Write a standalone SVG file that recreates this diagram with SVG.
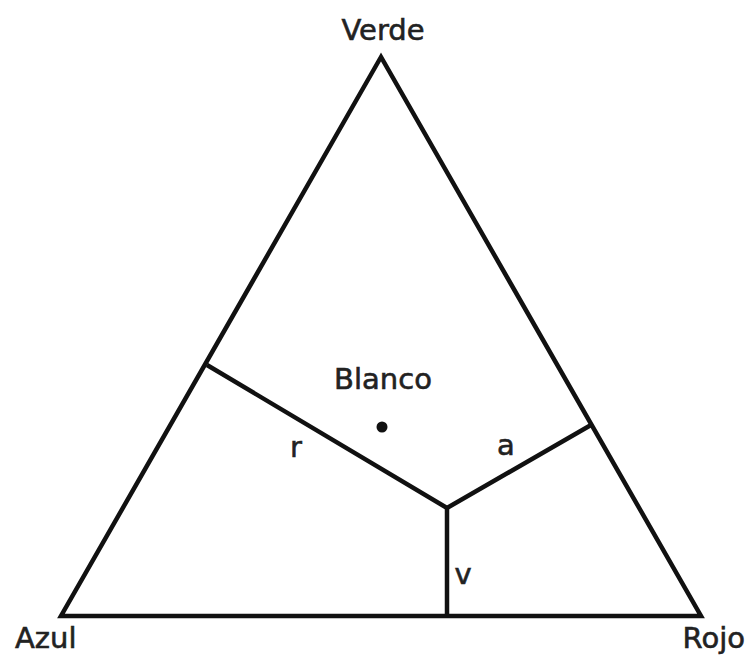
<svg xmlns="http://www.w3.org/2000/svg" width="748" height="656" viewBox="0 0 748 656">
<style>
.l{stroke:#111;stroke-width:4.5;fill:none;stroke-linejoin:miter}
.t{font-family:"DejaVu Sans",sans-serif;font-size:29px;fill:#222;stroke:#222;stroke-width:0.6}
</style>
<rect width="748" height="656" fill="#fff"/>
<g id="connectors">
<polygon class="l" points="381,57 61,616 701,616"/>
<polyline class="l" points="207,365 447,508 591,425"/>
<line class="l" x1="447" y1="508" x2="447" y2="616"/>
</g>
<g id="blanco"><circle cx="382" cy="427" r="5.5" fill="#111"/><text class="t" x="383" y="389" text-anchor="middle">Blanco</text></g>
<g id="verde"><text class="t" x="383" y="40" text-anchor="middle">Verde</text></g>
<g id="azul"><text class="t" x="15" y="648" font-size="28">Azul</text></g>
<g id="rojo"><text class="t" x="745" y="648" font-size="28" text-anchor="end">Rojo</text></g>
<g id="r"><text class="t" x="296" y="457" text-anchor="middle">r</text></g>
<g id="a"><text class="t" x="506" y="455" text-anchor="middle">a</text></g>
<g id="v"><text class="t" x="463" y="584" text-anchor="middle">v</text></g>
</svg>
